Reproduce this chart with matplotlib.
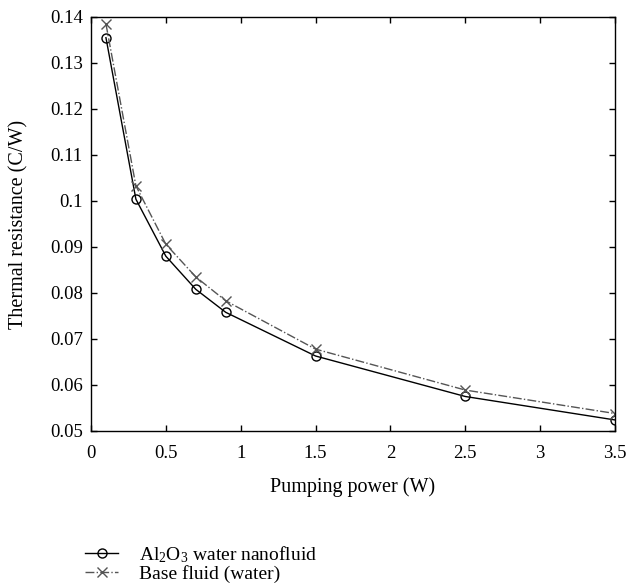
import matplotlib
matplotlib.use('Agg')
import matplotlib.pyplot as plt

plt.rcParams['font.family'] = ['Liberation Serif', 'DejaVu Serif']
plt.rcParams['mathtext.fontset'] = 'custom'
plt.rcParams['mathtext.rm'] = 'Liberation Serif'
plt.rcParams['mathtext.it'] = 'Liberation Serif:italic'

# pumping power (W)
power = [0.1, 0.3, 0.5, 0.7, 0.9, 1.5, 2.5, 3.5]
# thermal resistance (C/W)
r_nanofluid = [0.1355, 0.1004, 0.0880, 0.0808, 0.0758, 0.0663, 0.0575, 0.0524]
r_water = [0.1385, 0.1033, 0.0906, 0.0835, 0.0783, 0.0678, 0.0589, 0.0538]

xticks = [0, 0.5, 1, 1.5, 2, 2.5, 3, 3.5]
xticklabels = ['0', '0.5', '1', '1.5', '2', '2.5', '3', '3.5']
yticks = [0.05, 0.06, 0.07, 0.08, 0.09, 0.1, 0.11, 0.12, 0.13, 0.14]
yticklabels = ['0.05', '0.06', '0.07', '0.08', '0.09', '0.1', '0.11', '0.12', '0.13', '0.14']

fig = plt.figure(figsize=(6.3, 5.84), dpi=100)
ax = fig.add_axes([0.1444, 0.262, 0.8318, 0.7089])

ax.plot(power, r_nanofluid, '-', color='black', lw=1.0,
        marker='o', ms=6.5, mfc='none', mec='black', mew=1.0,
        label='Al$_2$O$_3$ water nanofluid')
ax.plot(power, r_water, '-.', color='#555555', lw=1.0,
        marker='x', ms=7, mec='#555555', mew=1.0,
        label='Base fluid (water)')

ax.set_xlim(0, 3.5)
ax.set_ylim(0.05, 0.14)
ax.set_xticks(xticks)
ax.set_xticklabels(xticklabels)
ax.set_yticks(yticks)
ax.set_yticklabels(yticklabels)
ax.tick_params(direction='in', top=True, right=True, length=4, width=1,
               labelsize=13.5)
ax.tick_params(axis='x', pad=10)
ax.tick_params(axis='y', pad=6)
for s in ax.spines.values():
    s.set_linewidth(1.0)

ax.set_xlabel('Pumping power (W)', fontsize=14.5, labelpad=11)
ax.set_ylabel('Thermal resistance (C/W)', fontsize=14.5, labelpad=15)

fig.legend(loc='upper left', bbox_to_anchor=(0.135, 0.068), frameon=False,
           fontsize=14, handlelength=1.7, handletextpad=1.1,
           labelspacing=0.0, borderpad=0, borderaxespad=0)

fig.savefig('out.png', dpi=100)
